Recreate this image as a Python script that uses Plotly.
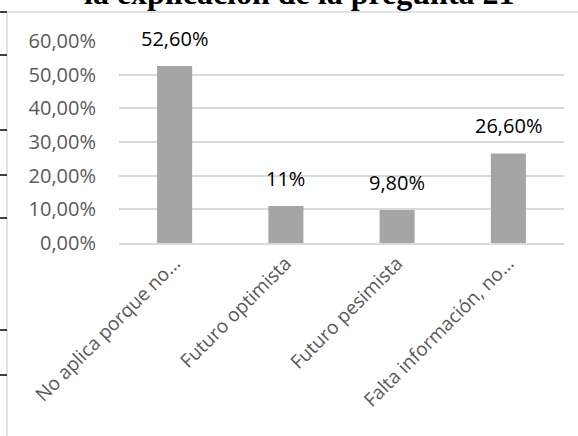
import plotly.graph_objects as go

categories = ["No aplica porque no...", "Futuro optimista", "Futuro pesimista", "Falta información, no..."]
values = [0.526, 0.11, 0.098, 0.266]
value_labels = ["52,60%", "11%", "9,80%", "26,60%"]
title_text = "la explicación de la pregunta 21"

W, H = 578, 436
L, R, T, B = 119, 14, 41, 193
pw, ph = W - L - R, H - T - B

def px_x(x):
    return (x - L) / pw

def px_y(y):
    return (H - B - y) / ph

fig = go.Figure()
fig.add_trace(go.Bar(
    x=categories, y=values, marker=dict(color="#a5a5a5", line=dict(width=0)),
    width=0.315, hoverinfo="skip"
))

annotations = []
for c, v, t in zip(categories, values, value_labels):
    annotations.append(dict(x=c, y=v, xref="x", yref="y", text=t, showarrow=False,
                            yanchor="bottom", yshift=12,
                            font=dict(family="Open Sans", size=20, color="#000000")))
annotations.append(dict(x=px_x(299.5), y=px_y(-7), xref="paper", yref="paper",
                        text="<b>" + title_text + "</b>", showarrow=False,
                        xanchor="center", yanchor="middle",
                        font=dict(family="Liberation Serif", size=32, color="#000000")))

shapes = []
shapes.append(dict(type="line", xref="paper", yref="paper", x0=px_x(7), x1=px_x(7),
                   y0=px_y(12), y1=px_y(436), line=dict(color="#d9d9d9", width=1.5)))
shapes.append(dict(type="line", xref="paper", yref="paper", x0=px_x(7), x1=px_x(578),
                   y0=px_y(12), y1=px_y(12), line=dict(color="#d9d9d9", width=1.5)))
for ty in [12, 55, 130, 175, 218, 330, 375]:
    shapes.append(dict(type="line", xref="paper", yref="paper", x0=px_x(0), x1=px_x(7),
                       y0=px_y(ty), y1=px_y(ty), line=dict(color="#000000", width=1.5)))

fig.update_layout(
    width=W, height=H,
    margin=dict(l=L, r=R, t=T, b=B, pad=0),
    paper_bgcolor="white", plot_bgcolor="white",
    separators=",.",
    showlegend=False,
    annotations=annotations,
    shapes=shapes,
    xaxis=dict(type="category", tickangle=-45, showgrid=False, showline=True,
               linecolor="#d9d9d9", linewidth=1.5, ticks="", automargin=False,
               tickfont=dict(family="Open Sans", size=19, color="#595959")),
    yaxis=dict(range=[0, 0.6], dtick=0.1, tickformat=".2%", showgrid=True,
               gridcolor="#d9d9d9", gridwidth=1.5, zeroline=False, showline=False,
               ticks="", ticklabelstandoff=22, automargin=False,
               tickfont=dict(family="Open Sans", size=20, color="#595959")),
)

fig.write_html("out.html", config={"displayModeBar": False},
               post_script="document.body.style.margin='0';document.body.style.overflow='hidden';")
